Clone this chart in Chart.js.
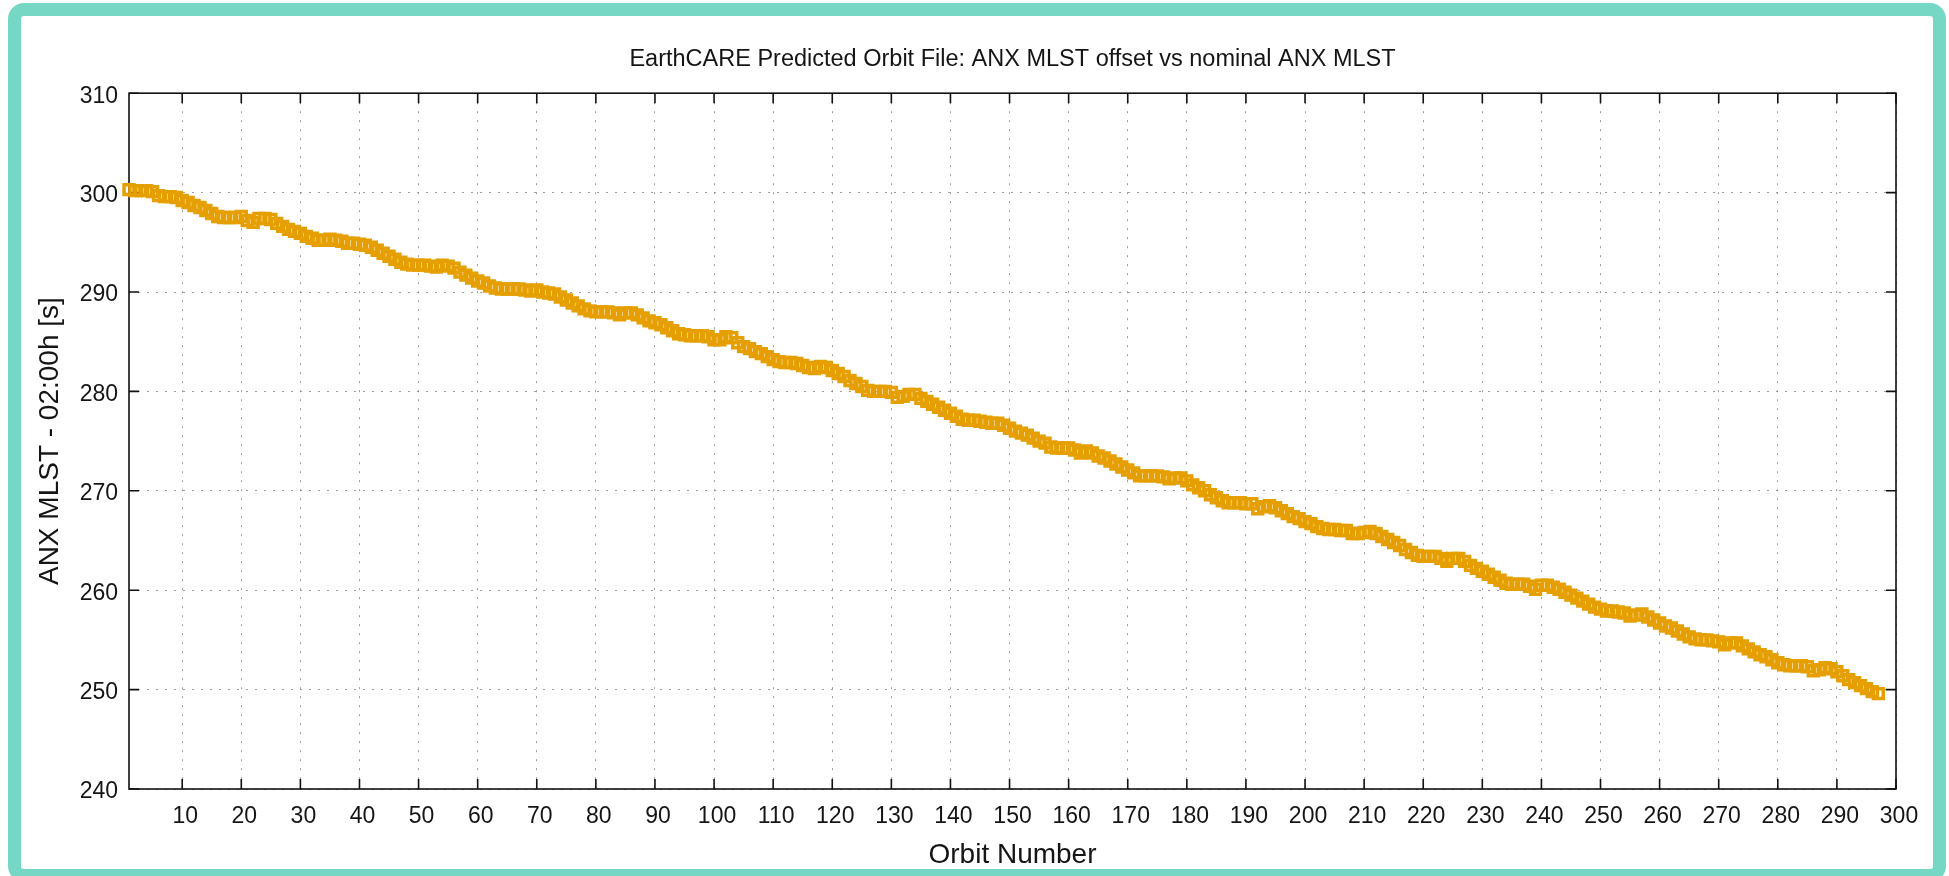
<!DOCTYPE html>
<html>
<head>
<meta charset="utf-8">
<script src="https://cdn.jsdelivr.net/npm/chart.js@4.4.1/dist/chart.umd.min.js"></script>
<style>
  html, body { margin: 0; padding: 0; background: #fff; overflow: hidden; }
  #wrap { position: relative; width: 1949px; height: 876px; }
  #c { position: absolute; left: 0; top: 0; }
  #frame { position: absolute; left: 8px; top: 3px; width: 1938px; height: 879px; box-sizing: border-box;
           border: 13px solid #76D7C4; border-radius: 16px; pointer-events: none; }
</style>
</head>
<body>
<div id="wrap">
  <canvas id="c" width="1949" height="876"></canvas>
  <div id="frame"></div>
</div>
<script>
const chartTitle = 'EarthCARE Predicted Orbit File: ANX MLST offset vs nominal ANX MLST';
const xAxisTitle = 'Orbit Number';
const yAxisTitle = 'ANX MLST - 02:00h [s]';

// ANX MLST offset (s) per orbit, orbits 1..297
const mlstOffset = [
  300.3, 300.2, 300.2, 300.2, 300.1, 299.7, 299.6, 299.6, 299.5, 299.2,
  299.0, 298.7, 298.5, 298.2, 297.9, 297.6, 297.5, 297.5, 297.5, 297.6,
  297.2, 297.0, 297.4, 297.4, 297.3, 296.9, 296.6, 296.3, 296.1, 295.9,
  295.6, 295.4, 295.2, 295.2, 295.3, 295.2, 295.1, 294.9, 294.9, 294.8,
  294.7, 294.5, 294.2, 293.9, 293.6, 293.3, 293.0, 292.8, 292.7, 292.7,
  292.7, 292.6, 292.5, 292.7, 292.6, 292.4, 292.0, 291.7, 291.4, 291.1,
  290.9, 290.6, 290.4, 290.3, 290.3, 290.3, 290.3, 290.2, 290.1, 290.2,
  290.0, 289.9, 289.8, 289.5, 289.2, 288.9, 288.6, 288.3, 288.1, 288.0,
  288.0, 288.0, 287.9, 287.7, 287.9, 287.9, 287.7, 287.4, 287.1, 286.9,
  286.7, 286.4, 286.1, 285.8, 285.7, 285.6, 285.6, 285.6, 285.5, 285.2,
  285.2, 285.5, 285.4, 284.9, 284.5, 284.3, 284.0, 283.8, 283.5, 283.2,
  283.0, 282.9, 282.9, 282.8, 282.6, 282.4, 282.3, 282.5, 282.4, 282.1,
  281.8, 281.5, 281.1, 280.8, 280.5, 280.1, 280.0, 280.0, 280.0, 279.9,
  279.4, 279.5, 279.7, 279.7, 279.3, 279.0, 278.7, 278.4, 278.1, 277.8,
  277.5, 277.2, 277.1, 277.1, 277.0, 276.9, 276.8, 276.8, 276.6, 276.3,
  276.0, 275.8, 275.6, 275.3, 275.0, 274.8, 274.4, 274.3, 274.3, 274.3,
  274.1, 273.8, 274.0, 273.8, 273.5, 273.3, 273.0, 272.7, 272.4, 272.1,
  271.8, 271.5, 271.5, 271.5, 271.5, 271.4, 271.2, 271.3, 271.3, 271.0,
  270.6, 270.3, 270.0, 269.6, 269.3, 269.0, 268.8, 268.8, 268.8, 268.7,
  268.7, 268.2, 268.4, 268.5, 268.3, 268.0, 267.7, 267.4, 267.2, 266.9,
  266.7, 266.4, 266.2, 266.1, 266.1, 266.0, 266.0, 265.7, 265.7, 265.8,
  265.9, 265.7, 265.4, 265.1, 264.8, 264.5, 264.1, 263.8, 263.5, 263.4,
  263.4, 263.4, 263.2, 262.9, 263.2, 263.2, 262.9, 262.5, 262.2, 261.9,
  261.6, 261.3, 261.0, 260.7, 260.6, 260.6, 260.6, 260.4, 260.1, 260.5,
  260.5, 260.3, 260.1, 259.8, 259.5, 259.2, 258.9, 258.6, 258.3, 258.1,
  257.9, 257.9, 257.8, 257.7, 257.4, 257.5, 257.6, 257.3, 257.0, 256.7,
  256.4, 256.2, 255.9, 255.6, 255.3, 255.1, 255.0, 255.0, 254.9, 254.8,
  254.5, 254.7, 254.7, 254.4, 254.1, 253.8, 253.5, 253.3, 253.0, 252.7,
  252.5, 252.4, 252.4, 252.4, 252.3, 251.9, 252.0, 252.2, 252.1, 251.8,
  251.4, 251.0, 250.7, 250.4, 250.1, 249.8, 249.6
];
// orbit numbers (categories) 1..N
const orbits = mlstOffset.map((_, i) => i + 1);

const xTicks = [10, 20, 30, 40, 50, 60, 70, 80, 90, 100, 110, 120, 130, 140, 150,
                160, 170, 180, 190, 200, 210, 220, 230, 240, 250, 260, 270, 280, 290, 300];
const yTicks = [240, 250, 260, 270, 280, 290, 300, 310];
const xRange = [1, 300];
const yRange = [240, 310];

const FONT = "'Liberation Sans', Arial, Helvetica, sans-serif";
const TEXT = '#151515';

const framePlugin = {
  id: 'frameTicks',
  beforeDatasetsDraw(chart) {
    const { ctx, chartArea: a, scales: { x, y } } = chart;
    const L = 10;
    ctx.save();
    ctx.strokeStyle = '#111';
    ctx.lineWidth = 1.6;
    ctx.beginPath();
    xTicks.forEach(v => {
      const px = x.getPixelForValue(v);
      ctx.moveTo(px, a.bottom); ctx.lineTo(px, a.bottom - L);
      ctx.moveTo(px, a.top); ctx.lineTo(px, a.top + L);
    });
    yTicks.forEach(v => {
      const py = y.getPixelForValue(v);
      ctx.moveTo(a.left, py); ctx.lineTo(a.left + L, py);
      ctx.moveTo(a.right, py); ctx.lineTo(a.right - L, py);
    });
    ctx.stroke();
    ctx.strokeRect(a.left, a.top, a.right - a.left, a.bottom - a.top);
    ctx.restore();
  }
};

new Chart(document.getElementById('c'), {
  type: 'scatter',
  data: {
    datasets: [{
      data: orbits.map((o, i) => ({ x: o, y: mlstOffset[i] })),
      pointStyle: 'rect',
      pointRadius: 7,
      pointBorderWidth: 3.5,
      pointBorderColor: '#E69F00',
      pointBackgroundColor: 'rgba(0,0,0,0)',
      showLine: false,
      clip: false
    }]
  },
  options: {
    responsive: false,
    animation: false,
    events: [],
    layout: { padding: { left: 21, top: 15, right: 53, bottom: 4 } },
    plugins: {
      legend: { display: false },
      tooltip: { enabled: false },
      title: {
        display: true,
        text: chartTitle,
        fullSize: false,
        color: TEXT,
        font: { family: FONT, size: 23.5, weight: 'normal' },
        padding: { top: 30, bottom: 20 }
      }
    },
    scales: {
      x: {
        type: 'linear',
        min: xRange[0], max: xRange[1],
        afterBuildTicks: (axis) => { axis.ticks = xTicks.map(v => ({ value: v })); },
        afterFit: (axis) => { axis.height = 83; },
        grid: { drawTicks: false, color: 'rgba(140,140,140,0.85)', lineWidth: 1 },
        border: { display: false, dash: [2, 7] },
        ticks: { color: TEXT, font: { family: FONT, size: 23 }, padding: 14, labelOffset: 3, maxRotation: 0, autoSkip: false },
        title: { display: true, text: xAxisTitle, color: TEXT, font: { family: FONT, size: 28 }, padding: { top: 0, bottom: 0 } }
      },
      y: {
        type: 'linear',
        min: yRange[0], max: yRange[1],
        afterBuildTicks: (axis) => { axis.ticks = yTicks.map(v => ({ value: v })); },
        afterFit: (axis) => { axis.width = 108; },
        grid: { drawTicks: false, color: 'rgba(140,140,140,0.85)', lineWidth: 1 },
        border: { display: false, dash: [2, 7] },
        ticks: { color: TEXT, font: { family: FONT, size: 23 }, padding: 11, labelOffset: 3, autoSkip: false },
        title: { display: true, text: yAxisTitle, color: TEXT, font: { family: FONT, size: 28 }, padding: { top: 12, bottom: 0 } }
      }
    }
  },
  plugins: [framePlugin]
});
</script>
</body>
</html>
